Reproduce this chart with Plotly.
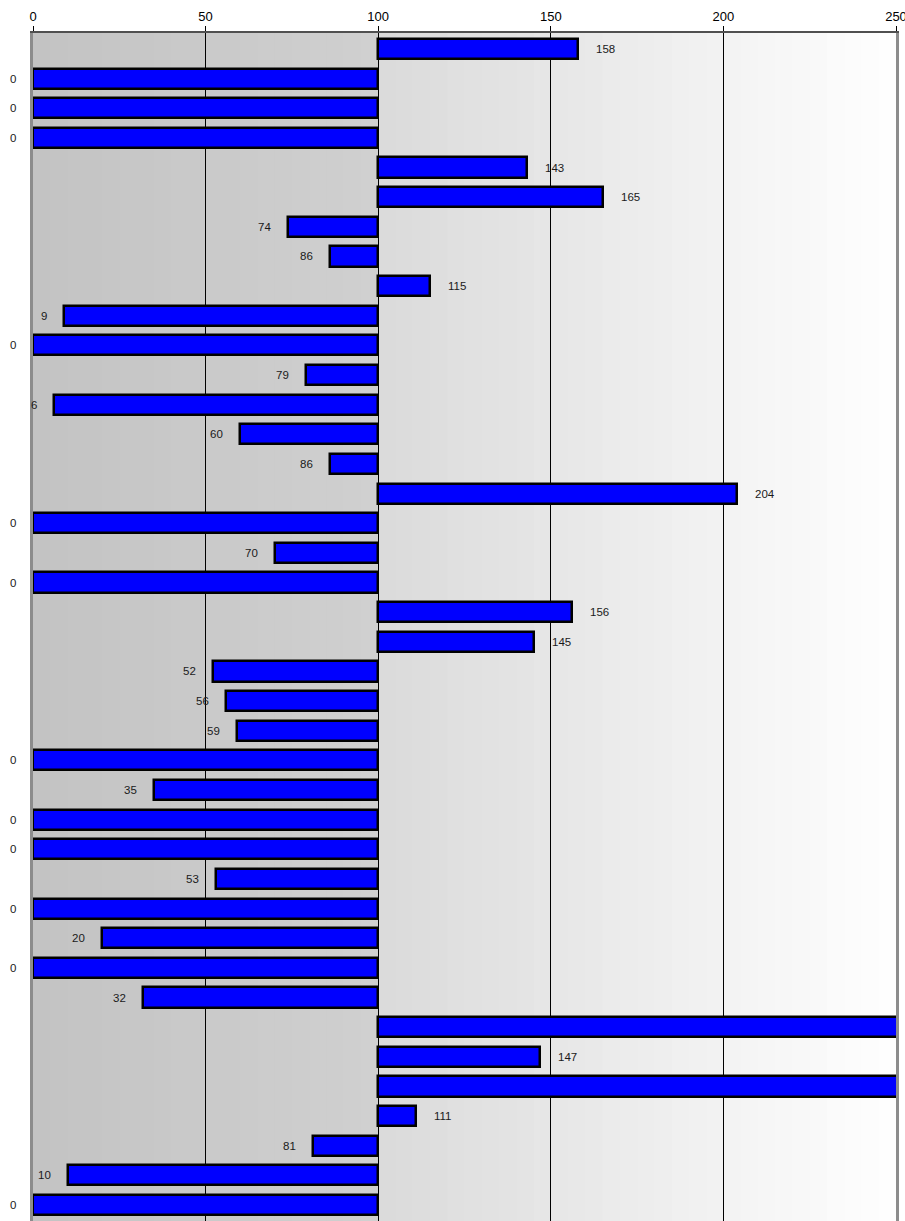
import plotly.graph_objects as go

# Values per row, top to bottom; bars grow from a base of 100
values = [158, 0, 0, 0, 143, 165, 74, 86, 115, 9,
          0, 79, 6, 60, 86, 204, 0, 70, 0, 156,
          145, 52, 56, 59, 0, 35, 0, 0, 53, 0,
          20, 0, 32, 262, 147, 258, 111, 81, 10, 0]
base_value = 100
tick_values = [0, 50, 100, 150, 200, 250]
x_max = 250

rows = list(range(len(values)))
font_family = "Liberation Sans, Arial, sans-serif"

fig = go.Figure()
fig.add_trace(go.Bar(
    y=rows,
    x=[v - base_value for v in values],
    base=base_value,
    orientation="h",
    width=0.68,
    marker=dict(color="#0000ff", line=dict(color="#000000", width=2.5)),
    hoverinfo="skip",
))

# value labels beside the free end of each bar
annotations = []
for i, v in enumerate(values):
    if v > x_max:
        continue
    right = v >= base_value
    annotations.append(dict(
        x=v, y=i, xref="x", yref="y", text=str(v), showarrow=False,
        xanchor="left" if right else "right",
        xshift=16 if right else -15,
        font=dict(family=font_family, size=11.5, color="#1a1a1a"),
    ))

# stepped grey-to-white background bands (slightly overlapping to avoid seams)
shapes = []
def grey(level):
    g = int(round(level))
    return f"rgb({g},{g},{g})"

step = 5
for x0 in range(0, x_max, step):
    x1 = x0 + step
    xm = (x0 + x1) / 2
    if xm < base_value:
        lvl = 195 + (208 - 195) * xm / base_value
    else:
        lvl = 218 + (255 - 218) * (xm - base_value) / (x_max - base_value)
    x1_draw = x1 if x1 == base_value or x1 == x_max else x1 + 1
    shapes.append(dict(type="rect", xref="x", yref="paper", x0=x0, x1=x1_draw,
                       y0=0, y1=1, fillcolor=grey(lvl), line=dict(width=0),
                       layer="below"))

n = len(values)
fig.update_layout(
    width=905, height=1221,
    margin=dict(l=33, r=9, t=33, b=0, autoexpand=False),
    paper_bgcolor="white",
    plot_bgcolor="white",
    showlegend=False,
    bargap=0,
    shapes=shapes,
    annotations=annotations,
    xaxis=dict(
        side="top", range=[0, x_max], tickvals=tick_values,
        ticks="outside", ticklen=5, tickcolor="#000000", tickwidth=1,
        ticklabeloverflow="allow", automargin=False,
        showgrid=True, gridcolor="#000000", gridwidth=1,
        showline=True, linecolor="#505050", linewidth=2,
        zeroline=False,
        tickfont=dict(family=font_family, size=13, color="#000000"),
    ),
    yaxis=dict(
        range=[n - 0.46, -0.54], showticklabels=False, ticks="",
        showgrid=False, zeroline=False, automargin=False,
        showline=True, mirror=True, linecolor="#8c8c8c", linewidth=3,
    ),
)

fig.write_html("out.html")
